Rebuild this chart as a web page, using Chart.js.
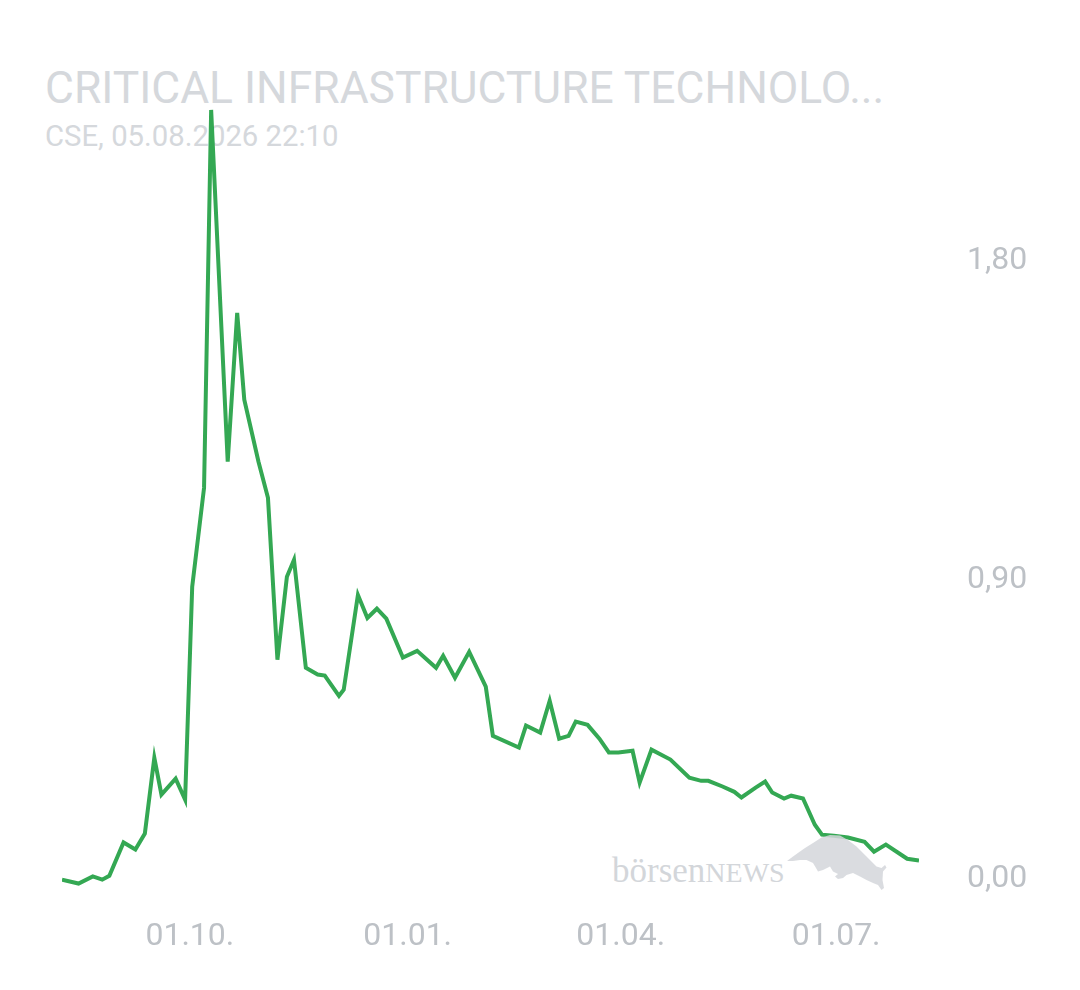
<!DOCTYPE html>
<html><head><meta charset="utf-8">
<script src="https://cdn.jsdelivr.net/npm/chart.js@4.4.1/dist/chart.umd.min.js"></script>
<style>
html,body{margin:0;padding:0;background:#fff;}
#wrap{position:relative;width:1080px;height:990px;overflow:hidden;background:#fff;}
#title{position:absolute;left:45px;top:66px;font-family:Roboto;font-size:44.4px;line-height:1;color:#d5d8dc;white-space:nowrap;}
#sub{position:absolute;left:45px;top:122px;font-family:Roboto;font-size:29.3px;line-height:1;color:#d5d8dc;white-space:nowrap;}
#wm{position:absolute;left:612px;top:853px;font-family:'Liberation Serif';font-size:35px;line-height:1;color:#d3d6da;white-space:nowrap;}
#wm span{font-size:28px;}
#c{position:absolute;left:0;top:0;z-index:1;}
</style></head>
<body>
<div id="wrap">
  <div id="title">CRITICAL INFRASTRUCTURE TECHNOLO...</div>
  <div id="sub">CSE, 05.08.2026 22:10</div>
  <div id="wm">börsen<span>NEWS</span></div>
  <canvas id="c" width="1080" height="990"></canvas>
</div>
<script>
// ---- data ----
const dates = [
 '2025-08-08','2025-08-15','2025-08-21','2025-08-25','2025-08-28','2025-09-03','2025-09-08','2025-09-12',
 '2025-09-16','2025-09-19','2025-09-25','2025-09-29','2025-10-02','2025-10-07','2025-10-10','2025-10-17',
 '2025-10-21','2025-10-24','2025-10-30','2025-11-03','2025-11-07','2025-11-11','2025-11-14','2025-11-19',
 '2025-11-24','2025-11-27','2025-12-03','2025-12-05','2025-12-11','2025-12-15','2025-12-19','2025-12-23',
 '2025-12-30','2026-01-05','2026-01-13','2026-01-16','2026-01-21','2026-01-27','2026-02-03','2026-02-06',
 '2026-02-17','2026-02-20','2026-02-26','2026-03-02','2026-03-06','2026-03-10','2026-03-13','2026-03-18',
 '2026-03-23','2026-03-27','2026-03-31','2026-04-06','2026-04-09','2026-04-14','2026-04-22','2026-04-30',
 '2026-05-05','2026-05-08','2026-05-14','2026-05-19','2026-05-22','2026-05-28','2026-06-01','2026-06-04',
 '2026-06-09','2026-06-12','2026-06-17','2026-06-22','2026-06-25','2026-06-30','2026-07-06','2026-07-13',
 '2026-07-17','2026-07-22','2026-07-31','2026-08-05'
];
const prices = [
 0.045,0.034,0.054,0.045,0.056,0.150,0.130,0.175,
 0.389,0.285,0.330,0.271,0.872,1.151,2.218,1.225,
 1.645,1.400,1.225,1.123,0.666,0.900,0.948,0.643,
 0.624,0.621,0.564,0.581,0.849,0.784,0.810,0.782,
 0.672,0.691,0.643,0.677,0.615,0.688,0.590,0.451,
 0.418,0.480,0.460,0.550,0.443,0.451,0.491,0.482,
 0.443,0.404,0.404,0.409,0.319,0.412,0.384,0.333,
 0.324,0.324,0.308,0.293,0.277,0.305,0.322,0.291,
 0.274,0.282,0.274,0.200,0.172,0.169,0.164,0.152,
 0.124,0.144,0.104,0.099
];
const xTickDates = ['2025-10-01','2026-01-01','2026-04-01','2026-07-01'];
const xTickLabels = ['01.10.','01.01.','01.04.','01.07.'];
const yTicks = [0, 0.9, 1.8];

// ---- helpers ----
const dayNum = s => { const [y,m,d] = s.split('-').map(Number); return Date.UTC(y, m-1, d) / 86400000; };
const points = dates.map((d, i) => ({ x: dayNum(d), y: prices[i] }));
const xTickVals = xTickDates.map(dayNum);
const fmtY = v => v.toFixed(2).replace('.', ',');
const labelColor = '#bdc1c6';

const bullPlugin = {
  id: 'bull',
  afterDatasetsDraw(chart) {
    const ctx = chart.ctx;
    const pts = [[787,861],[793,856.5],[800,851.5],[805,848],[813,843],[821.5,837.5],[830,835],[840,835.5],
      [848,840],[856.5,846.5],[866.5,856.5],[876.5,866.5],[881.5,868],[885,865],[886.5,867.5],[883,871.5],
      [882.5,880],[884,888],[881.5,890],[878,885],[873,883],[866.5,880],[860,876.5],[853,873],[846.5,875],
      [843,878],[838,879],[835,876.5],[838,874],[833,871.5],[830,866.5],[823,870],[818,871.5],[816,868],
      [813,863],[806.5,860],[800,860],[793,861]];
    ctx.save();
    ctx.fillStyle = 'rgba(211,214,218,0.85)';
    ctx.beginPath();
    pts.forEach((p, i) => i ? ctx.lineTo(p[0], p[1]) : ctx.moveTo(p[0], p[1]));
    ctx.closePath();
    ctx.fill();
    ctx.restore();
  }
};

new Chart(document.getElementById('c'), {
  type: 'line',
  data: {
    datasets: [{
      data: points,
      borderColor: '#34a853',
      borderWidth: 4,
      pointRadius: 0,
      tension: 0,
      fill: false,
      borderJoinStyle: 'miter'
    }]
  },
  options: {
    responsive: false,
    animation: false,
    devicePixelRatio: 1,
    layout: { padding: { left: 62, right: 49, top: 45.5, bottom: 34 } },
    plugins: { legend: { display: false }, tooltip: { enabled: false }, title: { display: false } },
    scales: {
      x: {
        type: 'linear',
        min: points[0].x,
        max: points[points.length - 1].x,
        grid: { display: true, drawOnChartArea: false, drawTicks: true, tickLength: 22, color: 'rgba(0,0,0,0)' },
        border: { display: false },
        afterBuildTicks: s => { s.ticks = xTickVals.map(v => ({ value: v })); },
        afterFit: s => { s.height = 60.4; },
        ticks: {
          padding: 0,
          maxRotation: 0,
          autoSkip: false,
          color: labelColor,
          font: { family: 'Roboto', size: 32 },
          callback: v => xTickLabels[xTickVals.indexOf(v)]
        }
      },
      y: {
        position: 'right',
        min: 0,
        max: 2.4,
        grid: { display: true, drawOnChartArea: false, drawTicks: true, tickLength: 48, color: 'rgba(0,0,0,0)' },
        border: { display: false },
        afterBuildTicks: s => { s.ticks = yTicks.map(v => ({ value: v })); },
        afterFit: s => { s.width = 112; },
        ticks: {
          padding: 0,
          labelOffset: 3,
          color: labelColor,
          font: { family: 'Roboto', size: 32, lineHeight: 1.25 },
          callback: v => v === 0 ? [fmtY(v), ''] : fmtY(v)
        }
      }
    }
  },
  plugins: [bullPlugin]
});
</script>
</body></html>
